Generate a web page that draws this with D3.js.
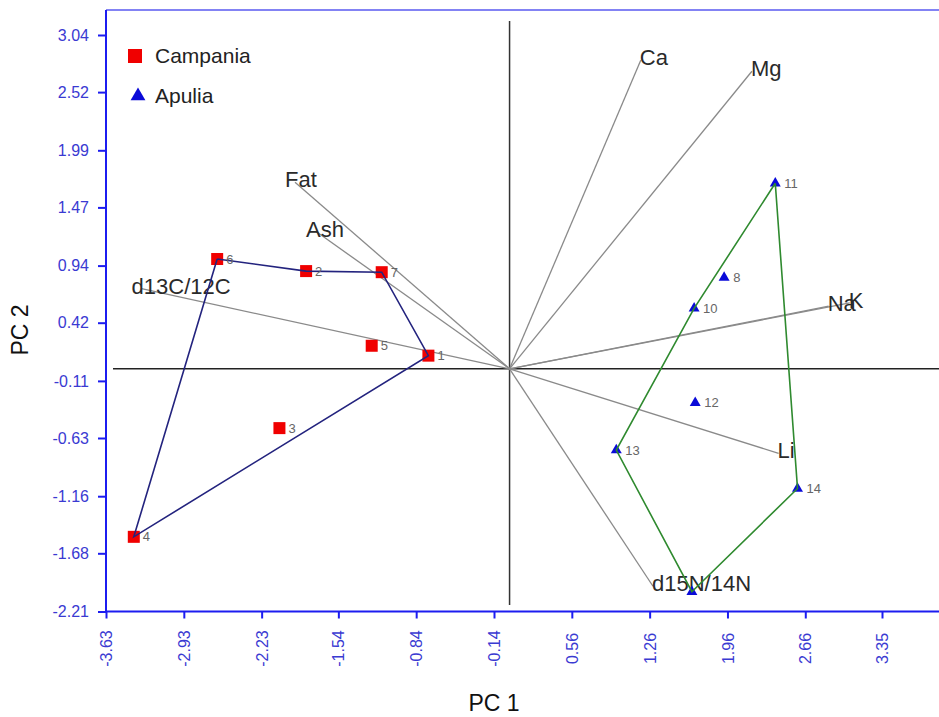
<!DOCTYPE html>
<html>
<head>
<meta charset="utf-8">
<style>
    body { margin: 0; background: #fff; }
    svg { display: block; font-family: 'Liberation Sans', Arial, sans-serif; }
</style>
</head>
<body>
<svg width="939" height="717"></svg>

<script src="https://d3js.org/d3.v7.min.js"></script>
<script>
    // scores
    let campaniaIds = [1, 2, 3, 4, 5, 6, 7]
    let campaniaPC1 = [-0.73, -1.83, -2.07, -3.38, -1.24, -2.63, -1.15]
    let campaniaPC2 = [0.12, 0.89, -0.54, -1.53, 0.21, 1.00, 0.88]
    let campaniaHull = [6, 2, 7, 1, 4, 6]

    let apuliaIds = [8, 9, 10, 11, 12, 13, 14]
    let apuliaPC1 = [1.93, 1.64, 1.66, 2.39, 1.67, 0.96, 2.59]
    let apuliaPC2 = [0.83, -2.03, 0.55, 1.69, -0.31, -0.74, -1.09]
    let apuliaHull = [11, 14, 9, 13, 10, 11]

    // loadings (vector end points)
    let varNames = ["Ca", "Mg", "Fat", "Ash", "d13C/12C", "Na", "K", "Li", "d15N/14N"]
    let varPC1 = [1.18, 2.18, -1.93, -1.74, -3.31, 2.87, 3.06, 2.42, 1.29]
    let varPC2 = [2.81, 2.71, 1.70, 1.25, 0.73, 0.57, 0.60, -0.77, -1.98]

    let xTicks = [-3.63, -2.93, -2.23, -1.54, -0.84, -0.14, 0.56, 1.26, 1.96, 2.66, 3.35]
    let yTicks = [3.04, 2.52, 1.99, 1.47, 0.94, 0.42, -0.11, -0.63, -1.16, -1.68, -2.21]

    let svg = d3.select("svg")
    let width = 939

    let x = d3.scaleLinear().domain([-3.63, 3.35]).range([106, 882])
    let y = d3.scaleLinear().domain([-2.21, 3.04]).range([611.5, 35])

    let axisBlue = "#1c1cf0"
    let labelBlue = "#3a3ad2"

    let plotLeft = x(-3.63), plotBottom = y(-2.21), plotTop = 10

    // zero lines
    svg.append("line")
        .attr("x1", 113).attr("x2", width)
        .attr("y1", y(0)).attr("y2", y(0))
        .style("stroke", "#222").style("stroke-width", 1.5)
    svg.append("line")
        .attr("x1", x(0)).attr("x2", x(0))
        .attr("y1", 21).attr("y2", 605)
        .style("stroke", "#333").style("stroke-width", 1.5)

    // loading vectors
    let vars = varNames.map((n, i) => ({ name: n, pc1: varPC1[i], pc2: varPC2[i] }))
    svg.selectAll(".vec")
        .data(vars)
        .join("line")
        .attr("class", "vec")
        .attr("x1", x(0)).attr("y1", y(0))
        .attr("x2", d => x(d.pc1)).attr("y2", d => y(d.pc2))
        .style("stroke", "#8a8a8a").style("stroke-width", 1.3)

    svg.selectAll(".vec-label")
        .data(vars)
        .join("text")
        .attr("class", "vec-label")
        .attr("x", d => x(d.pc1) + (d.pc1 < 0 ? -10 : -1))
        .attr("y", d => y(d.pc2) + 5)
        .style("font-size", "22px")
        .style("fill", "#2a2a2a")
        .text(d => d.name)

    // frame
    svg.append("line")
        .attr("x1", plotLeft).attr("x2", width).attr("y1", plotTop).attr("y2", plotTop)
        .style("stroke", "#5a5af0").style("stroke-width", 1.5)
    svg.append("line")
        .attr("x1", plotLeft).attr("x2", plotLeft).attr("y1", plotTop).attr("y2", plotBottom)
        .style("stroke", axisBlue).style("stroke-width", 2)
    svg.append("line")
        .attr("x1", plotLeft).attr("x2", width).attr("y1", plotBottom).attr("y2", plotBottom)
        .style("stroke", axisBlue).style("stroke-width", 2)

    // axes
    let yAxis = svg.append("g")
        .attr("transform", `translate(${plotLeft},0)`)
        .call(d3.axisLeft(y).tickValues(yTicks).tickSize(8).tickPadding(9)
            .tickFormat(d => d.toFixed(2)))
    let xAxis = svg.append("g")
        .attr("transform", `translate(0,${plotBottom})`)
        .call(d3.axisBottom(x).tickValues(xTicks).tickSize(7)
            .tickFormat(d => d.toFixed(2)))

    for (let ax of [xAxis, yAxis]) {
        ax.select(".domain").remove()
        ax.selectAll(".tick line").style("stroke", axisBlue).style("stroke-width", 2)
        ax.selectAll(".tick text")
            .style("fill", labelBlue)
            .style("font-size", "16px")
            .style("font-family", "'Liberation Sans', Arial, sans-serif")
    }
    xAxis.selectAll(".tick text")
        .attr("y", 0).attr("dy", "0.35em")
        .attr("text-anchor", "middle")
        .attr("transform", "translate(0,37) rotate(-90)")

    // axis titles
    svg.append("text")
        .attr("x", 494).attr("y", 711)
        .attr("text-anchor", "middle")
        .style("font-size", "23px").style("fill", "#111")
        .text("PC 1")
    svg.append("text")
        .attr("transform", "translate(28,330) rotate(-90)")
        .attr("text-anchor", "middle")
        .style("font-size", "23px").style("fill", "#111")
        .text("PC 2")

    // points
    let campania = campaniaIds.map((id, i) => ({ id: id, pc1: campaniaPC1[i], pc2: campaniaPC2[i] }))
    let apulia = apuliaIds.map((id, i) => ({ id: id, pc1: apuliaPC1[i], pc2: apuliaPC2[i] }))

    svg.selectAll(".sq")
        .data(campania)
        .join("rect")
        .attr("class", "sq")
        .attr("x", d => x(d.pc1) - 6).attr("y", d => y(d.pc2) - 6)
        .attr("width", 12).attr("height", 12)
        .style("fill", "#f00000")

    let tri = d3.symbol().type(d3.symbolTriangle).size(52)
    svg.selectAll(".tri")
        .data(apulia)
        .join("path")
        .attr("class", "tri")
        .attr("d", tri)
        .attr("transform", d => `translate(${x(d.pc1)},${y(d.pc2)})`)
        .style("fill", "#0a0ad8")

    // hulls
    let line = d3.line().x(d => x(d.pc1)).y(d => y(d.pc2))
    let byId = {}
    campania.concat(apulia).forEach(d => byId[d.id] = d)

    svg.append("path")
        .attr("d", line(campaniaHull.map(id => byId[id])))
        .style("fill", "none").style("stroke", "#23237e").style("stroke-width", 1.6)
    svg.append("path")
        .attr("d", line(apuliaHull.map(id => byId[id])))
        .style("fill", "none").style("stroke", "#2f8a2f").style("stroke-width", 1.6)

    // point labels (9 sits under the d15N/14N label)
    svg.selectAll(".pt-label")
        .data(campania.concat(apulia).filter(d => d.id != 9))
        .join("text")
        .attr("class", "pt-label")
        .attr("x", d => x(d.pc1) + 9)
        .attr("y", d => y(d.pc2))
        .attr("dy", "0.35em")
        .style("font-size", "13px")
        .style("fill", "#666")
        .text(d => d.id)

    // legend
    svg.append("rect")
        .attr("x", 128).attr("y", 49).attr("width", 14).attr("height", 14)
        .style("fill", "#f00000")
    svg.append("path")
        .attr("d", d3.symbol().type(d3.symbolTriangle).size(95)())
        .attr("transform", "translate(138,96)")
        .style("fill", "#0a0ad8")
    svg.append("text")
        .attr("x", 155).attr("y", 56).attr("dy", "0.35em")
        .style("font-size", "21px").style("fill", "#222")
        .text("Campania")
    svg.append("text")
        .attr("x", 155).attr("y", 96).attr("dy", "0.35em")
        .style("font-size", "21px").style("fill", "#222")
        .text("Apulia")
</script>
</body>
</html>
